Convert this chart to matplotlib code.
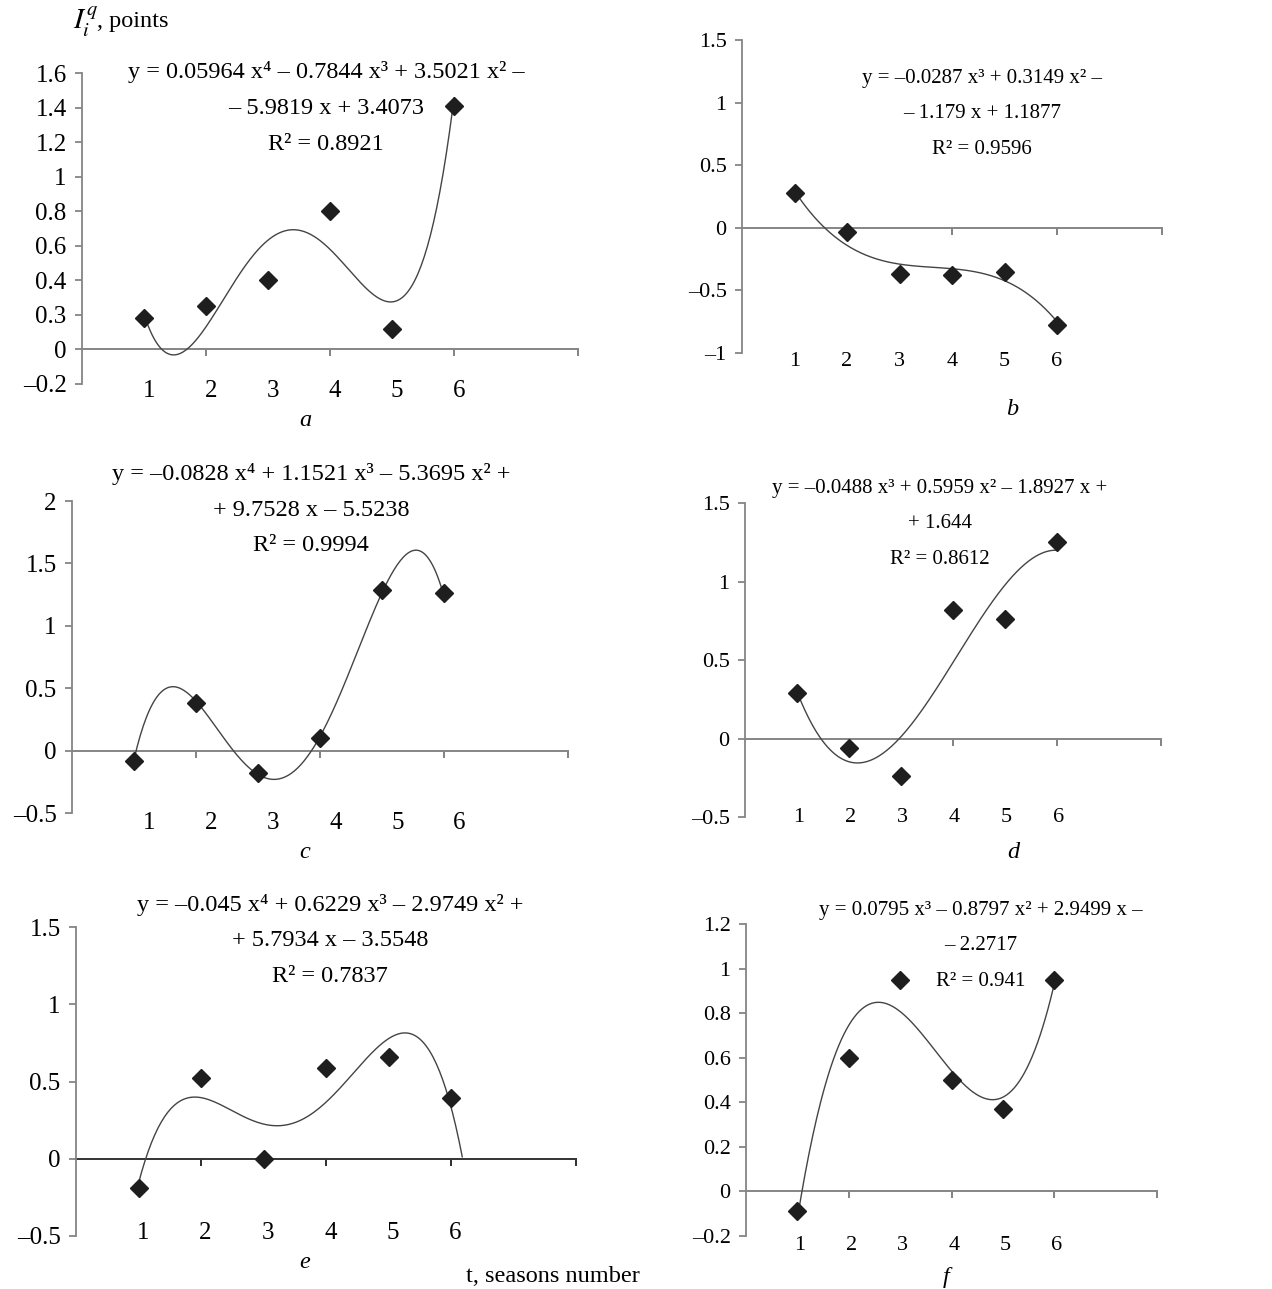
import numpy as np
import matplotlib
matplotlib.use('Agg')
import matplotlib.pyplot as plt

plt.rcParams['font.family'] = ['Liberation Serif', 'DejaVu Serif']
plt.rcParams['mathtext.fontset'] = 'stix'

W, H = 1272, 1289

# season numbers
seasons = [1, 2, 3, 4, 5, 6]

vals_a = [0.18, 0.25, 0.40, 0.80, 0.12, 1.41]
vals_b = [0.28, -0.03, -0.37, -0.38, -0.35, -0.78]
vals_c = [-0.08, 0.38, -0.18, 0.10, 1.29, 1.26]
vals_d = [0.29, -0.06, -0.24, 0.82, 0.76, 1.25]
vals_e = [-0.19, 0.52, 0.0, 0.59, 0.66, 0.39]
vals_f = [-0.09, 0.60, 0.95, 0.50, 0.37, 0.95]

# trend line coefficients (highest power first), as printed on the chart
coef_a = [0.05964, -0.7844, 3.5021, -5.9819, 3.4073]
coef_b = [-0.0287, 0.3149, -1.179, 1.1877]
coef_c = [-0.0828, 1.1521, -5.3695, 9.7528, -5.5238]
coef_d = [-0.0488, 0.5959, -1.8927, 1.644]
coef_e = [-0.045, 0.6229, -2.9749, 5.7934, -3.5548]
coef_f = [0.0795, -0.8797, 2.9499, -2.2717]

eq_a = ['y = 0.05964 x⁴ – 0.7844 x³ + 3.5021 x² –', '– 5.9819 x + 3.4073', 'R² = 0.8921']
eq_b = ['y = –0.0287 x³ + 0.3149 x² –', '– 1.179 x + 1.1877', 'R² = 0.9596']
eq_c = ['y = –0.0828 x⁴ + 1.1521 x³ – 5.3695 x² +', '+ 9.7528 x – 5.5238', 'R² = 0.9994']
eq_d = ['y = –0.0488 x³ + 0.5959 x² – 1.8927 x +', '+ 1.644', 'R² = 0.8612']
eq_e = ['y = –0.045 x⁴ + 0.6229 x³ – 2.9749 x² +', '+ 5.7934 x – 3.5548', 'R² = 0.7837']
eq_f = ['y = 0.0795 x³ – 0.8797 x² + 2.9499 x –', '– 2.2717', 'R² = 0.941']

ticks_a = [-0.2, 0, 0.2, 0.4, 0.6, 0.8, 1.0, 1.2, 1.4, 1.6]
labels_a = ['–0.2', '0', '0.3', '0.4', '0.6', '0.8', '1', '1.2', '1.4', '1.6']
ticks_b = [-1, -0.5, 0, 0.5, 1, 1.5]
labels_b = ['–1', '–0.5', '0', '0.5', '1', '1.5']
ticks_c = [-0.5, 0, 0.5, 1, 1.5, 2]
labels_c = ['–0.5', '0', '0.5', '1', '1.5', '2']
ticks_d = [-0.5, 0, 0.5, 1, 1.5]
labels_d = ['–0.5', '0', '0.5', '1', '1.5']
ticks_e = [-0.5, 0, 0.5, 1, 1.5]
labels_e = ['–0.5', '0', '0.5', '1', '1.5']
ticks_f = [-0.2, 0, 0.2, 0.4, 0.6, 0.8, 1.0, 1.2]
labels_f = ['–0.2', '0', '0.2', '0.4', '0.6', '0.8', '1', '1.2']

GRAY = '#858585'
FS_TXT = 17.5

panels = [
    # letter, vals, coef, eq, ticks, labels, (x0, x1, ytop, ybot) px, trend end, label dx, label dy px,
    # eq centre x, eq first line y, letter pos, zero line colour, tick font, eq font
    ('a', vals_a, coef_a, eq_a, ticks_a, labels_a, (82, 578, 73, 384), 6.0, 0.08, 7, 326, 72, (305, 420), GRAY, 18, 17.5),
    ('b', vals_b, coef_b, eq_b, ticks_b, labels_b, (742, 1162, 40, 353), 6.0, 0.0, 9, 982, 78, (1012, 410), GRAY, 16, 15),
    ('c', vals_c, coef_c, eq_c, ticks_c, labels_c, (72, 568, 501, 813), 6.0, 0.25, 10, 311, 474, (305, 852), GRAY, 18, 17.5),
    ('d', vals_d, coef_d, eq_d, ticks_d, labels_d, (745, 1161, 503, 817), 6.0, 0.03, 0, 940, 488, (1013, 852), GRAY, 16, 15),
    ('e', vals_e, coef_e, eq_e, ticks_e, labels_e, (76, 576, 927, 1236), 6.18, 0.07, -3, 330, 905, (305, 1262), '#333333', 18, 17.5),
    ('f', vals_f, coef_f, eq_f, ticks_f, labels_f, (746, 1157, 924, 1236), 6.0, 0.05, 9, 981, 910, (946, 1278), GRAY, 16, 15),
]

fig = plt.figure(figsize=(W / 100, H / 100), dpi=100)

for (letter, vals, coef, eq, yt, yl, box, xend, ldx, ldy, eqx, eqy, lpos, zcol, fst, fse) in panels:
    x0, x1, ytop, ybot = box
    ax = fig.add_axes([x0 / W, 1 - ybot / H, (x1 - x0) / W, (ybot - ytop) / H])
    ax.set_xlim(0, 8)
    ax.set_ylim(yt[0], yt[-1])
    ax.patch.set_alpha(0)
    for s in ['top', 'right', 'bottom']:
        ax.spines[s].set_visible(False)
    ax.spines['left'].set_color(GRAY)
    ax.spines['left'].set_linewidth(1.3)
    ax.set_yticks(yt)
    ax.set_yticklabels(yl, fontsize=fst)
    ax.tick_params(axis='y', colors=GRAY, length=5, width=1.3, labelcolor='black', pad=6)
    ax.set_xticks([])

    # zero axis with downward ticks
    ax.plot([0, 8], [0, 0], color=zcol, lw=1.4, clip_on=False)
    for xt in [2, 4, 6, 8]:
        ax.plot([xt, xt], [0, 0], marker=3, markersize=5, color=zcol, mew=1.4, clip_on=False)

    # trend line
    xs = np.linspace(1, xend, 200)
    ax.plot(xs, np.polyval(coef, xs), color='#444444', lw=1.0, clip_on=False)

    # observations
    ax.plot(seasons, vals, linestyle='none', marker='D', markersize=9,
            color='#1e1e1e', clip_on=False, zorder=5)

    # category labels
    for s in seasons:
        ax.annotate(str(s), xy=(s + ldx, yt[0]), xytext=(0, -ldy),
                    textcoords='offset pixels', ha='center', va='center', fontsize=fst)

    # equation text
    for i, line in enumerate(eq):
        fig.text(eqx / W, 1 - (eqy + i * 36) / H, line, ha='center', va='center', fontsize=fse)

    fig.text(lpos[0] / W, 1 - lpos[1] / H, letter, ha='center', va='center',
             fontsize=FS_TXT, style='italic')

fig.text(73 / W, 1 - 22 / H, r'$I_i^q$', ha='left', va='center', fontsize=21)
fig.text(97 / W, 1 - 22 / H, ', points', ha='left', va='center', fontsize=FS_TXT)
fig.text(553 / W, 1 - 1276 / H, 't, seasons number', ha='center', va='center', fontsize=FS_TXT)

fig.savefig('out.png', dpi=100)
